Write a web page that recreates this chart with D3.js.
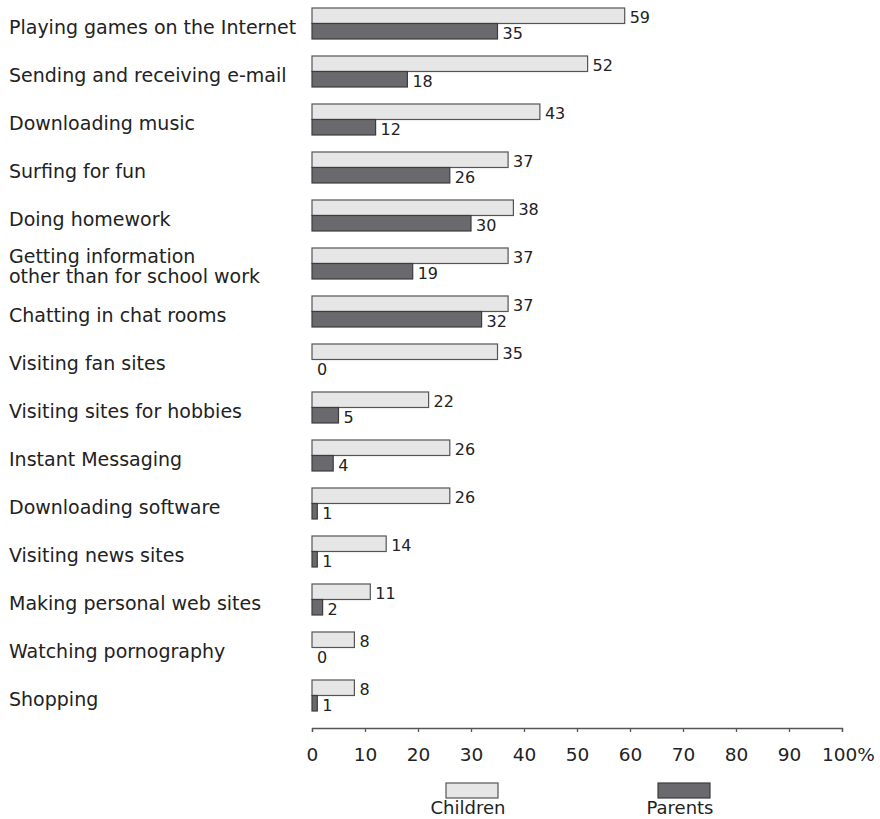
<!DOCTYPE html>
<html>
<head>
<meta charset="utf-8">
<script src="https://cdn.jsdelivr.net/npm/d3@7"></script>
<style>
  body { margin: 0; background: #fff; }
  svg text { font-family: "DejaVu Sans", Verdana, sans-serif; fill: #222; }
</style>
</head>
<body>
<div id="chart"></div>
<script>
const categories = [
  ["Playing games on the Internet"],
  ["Sending and receiving e-mail"],
  ["Downloading music"],
  ["Surfing for fun"],
  ["Doing homework"],
  ["Getting information", "other than for school work"],
  ["Chatting in chat rooms"],
  ["Visiting fan sites"],
  ["Visiting sites for hobbies"],
  ["Instant Messaging"],
  ["Downloading software"],
  ["Visiting news sites"],
  ["Making personal web sites"],
  ["Watching pornography"],
  ["Shopping"]
];
const children = [59, 52, 43, 37, 38, 37, 37, 35, 22, 26, 26, 14, 11, 8, 8];
const parents  = [35, 18, 12, 26, 30, 19, 32, 0, 5, 4, 1, 1, 2, 0, 1];
const seriesNames = ["Children", "Parents"];
const xTicks = [0, 10, 20, 30, 40, 50, 60, 70, 80, 90, 100];

const width = 880, height = 819;
const colors = { Children: "#e6e6e6", Parents: "#6a6a6e" };
const strokes = { Children: "#555", Parents: "#3c3c3c" };

const svg = d3.select("#chart").append("svg")
  .attr("width", width)
  .attr("height", height);

const x = d3.scaleLinear().domain([0, 100]).range([312, 842]);

const rows = categories.map((c, i) => ({ label: c, Children: children[i], Parents: parents[i] }));

const y = d3.scaleBand()
  .domain(d3.range(rows.length))
  .range([8, 8 + rows.length * 48]);

const ySub = d3.scaleBand().domain(seriesNames).range([0, 31]);

// category labels
const labels = svg.append("g").selectAll("text")
  .data(rows)
  .enter().append("text")
  .attr("x", 9)
  .attr("y", (d, i) => y(i) + 26)
  .attr("font-size", "19px");

labels.each(function(d) {
  const t = d3.select(this);
  const n = d.label.length;
  d.label.forEach((line, k) => {
    t.append("tspan")
      .attr("x", 9)
      .attr("dy", k === 0 ? (-(n - 1) * 11) : 20)
      .text(line);
  });
});

// bars
const row = svg.append("g").selectAll("g")
  .data(rows)
  .enter().append("g")
  .attr("transform", (d, i) => "translate(0," + y(i) + ")");

const cells = row.selectAll("g")
  .data(d => seriesNames.map(k => ({ key: k, value: d[k] })))
  .enter().append("g");

cells.filter(d => d.value > 0).append("rect")
  .attr("x", x(0))
  .attr("y", d => ySub(d.key))
  .attr("width", d => x(d.value) - x(0))
  .attr("height", ySub.bandwidth())
  .attr("fill", d => colors[d.key])
  .attr("stroke", d => strokes[d.key])
  .attr("stroke-width", 1.2);

cells.append("text")
  .attr("x", d => x(d.value) + 5)
  .attr("y", d => ySub(d.key) + 15)
  .attr("font-size", "16px")
  .text(d => d.value);

// x axis
const xAxis = d3.axisBottom(x)
  .tickValues(xTicks)
  .tickSize(4)
  .tickPadding(16)
  .tickFormat(d => d === 100 ? "100%" : d);

const ax = svg.append("g")
  .attr("transform", "translate(0,728)")
  .call(xAxis);

ax.select(".domain").attr("stroke", "#555").attr("stroke-width", 1.3);
ax.selectAll(".tick line").attr("stroke", "#555").attr("stroke-width", 1.3);
ax.selectAll(".tick text")
  .attr("font-size", "18.5px")
  .attr("fill", "#222")
  .attr("font-family", "DejaVu Sans, Verdana, sans-serif")
  .attr("dx", d => d === 100 ? 6 : 0);

// legend
const legendX = d3.scalePoint().domain(seriesNames).range([472, 684]);

const lg = svg.append("g").selectAll("g")
  .data(seriesNames)
  .enter().append("g")
  .attr("transform", d => "translate(" + legendX(d) + ",0)");

lg.append("rect")
  .attr("x", -26)
  .attr("y", 783)
  .attr("width", 52)
  .attr("height", 15)
  .attr("fill", d => colors[d])
  .attr("stroke", d => strokes[d])
  .attr("stroke-width", 1.2);

lg.append("text")
  .attr("x", -4)
  .attr("y", 814)
  .attr("text-anchor", "middle")
  .attr("font-size", "18px")
  .text(d => d);
</script>
</body>
</html>
